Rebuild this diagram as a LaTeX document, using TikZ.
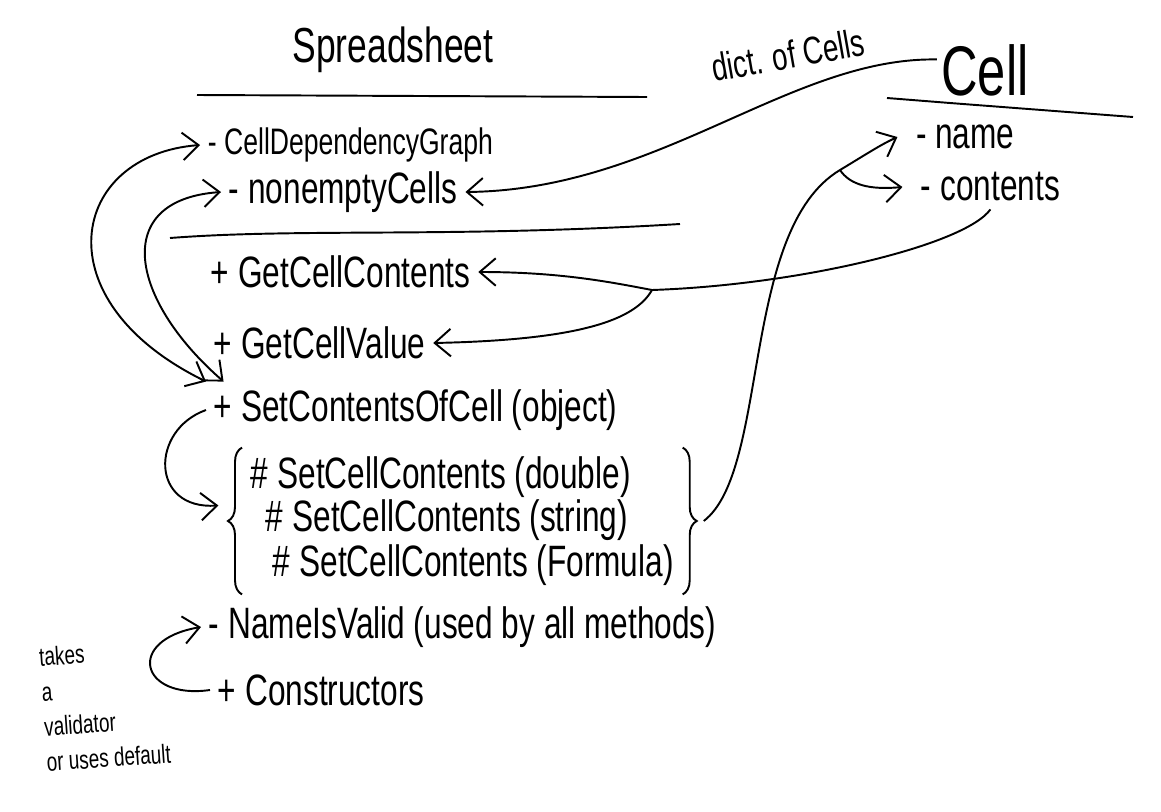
\documentclass[tikz,border=0pt]{standalone}
\usepackage{fontspec}
\setmainfont{Liberation Sans}[FakeStretch=0.72]
\usepackage{tikz}
\usetikzlibrary{arrows.meta, fit, decorations.pathreplacing}

\begin{document}
\begin{tikzpicture}[
    x=0.02cm, y=-0.02cm,
    line width=1.1pt,
    >={Straight Barb[length=3.2mm,width=5.5mm]},
    header/.style={inner sep=2pt, font=\fontsize{28}{30}\selectfont},
    member/.style={anchor=west, inner sep=4pt, font=\fontsize{25}{28}\selectfont},
    remark/.style={inner sep=2pt, align=left, font=\fontsize{15}{20}\selectfont},
    curly/.style={decorate, decoration={brace, amplitude=8pt}},
]
    \useasboundingbox (0,0) rectangle (1161,812);

    \node[header] (sheet) at (393,50) {Spreadsheet};
    \node[header, font=\fontsize{40}{42}\selectfont] (cell) at (985,70) {Cell};
    \node[header, font=\fontsize{22}{24}\selectfont, rotate=10] (dict) at (788,55) {dict. of Cells};

    \draw (197,95) -- (647,97);
    \draw (170,238) .. controls (300,228) and (450,238) .. (680,224);
    \draw (887,98) -- (950,103) -- (1133,117);

    \node[member, font=\fontsize{21}{24}\selectfont] (graph) at (200,145) {- CellDependencyGraph};
    \node[member] (cells) at (221,192) {- nonemptyCells};
    \node[member] (getcontents) at (203,272) {+ GetCellContents};
    \node[member] (getvalue) at (206,343) {+ GetCellValue};
    \node[member] (setcontents) at (206,410) {+ SetContentsOfCell (object)};
    \node[member] (setdouble) at (243,477) {\# SetCellContents (double)};
    \node[member] (setstring) at (258,520) {\# SetCellContents (string)};
    \node[member] (setformula) at (265,565) {\# SetCellContents (Formula)};
    \node[member] (valid) at (201,627) {- NameIsValid (used by all methods)};
    \node[member] (ctors) at (210,690) {+ Constructors};
    \node[member] (name) at (908,137) {- name};
    \node[member] (contents) at (913,187) {- contents};
    \node[remark, rotate=4] (note) at (105,705) {takes\\a\\validator\\or uses default};

    \node[fit=(setdouble)(setstring)(setformula), inner sep=0pt] (setgroup) {};
    \draw[curly] (setgroup.south west) -- (setgroup.north west);
    \draw[curly] (setgroup.north east) -- (setgroup.south east);

    \coordinate (split) at (652,290);
    \coordinate (fork) at (840,170);
    \coordinate (bracetip) at ([xshift=12pt]setgroup.east);

    \draw[<->] (graph.west) .. controls (70,155) and (40,300) .. (setcontents.north west);
    \draw[<->] (cells.west) .. controls (110,200) and (130,300) .. ([xshift=10pt]setcontents.north west);
    \draw[->] ([yshift=6pt]cell.west) .. controls (790,57) and (660,190) .. (cells.east);
    \draw[->] (contents.south) .. controls (965,245) and (800,285) .. (split) .. controls (610,282) and (560,272) .. (getcontents.east);
    \draw[->] (split) .. controls (635,320) and (580,340) .. (getvalue.east);
    \draw[->] (bracetip) .. controls (770,470) and (740,230) .. (fork) .. controls (865,155) and (880,145) .. ([xshift=-6pt]name.west);
    \draw[->] (fork) .. controls (850,185) and (870,190) .. ([xshift=-6pt]contents.west);
    \draw[->] (setcontents.west) .. controls (150,430) and (150,510) .. ([xshift=-14pt]setdouble.south west);
    \draw[->] (ctors.west) .. controls (140,700) and (125,640) .. (valid.west);
\end{tikzpicture}
\end{document}
